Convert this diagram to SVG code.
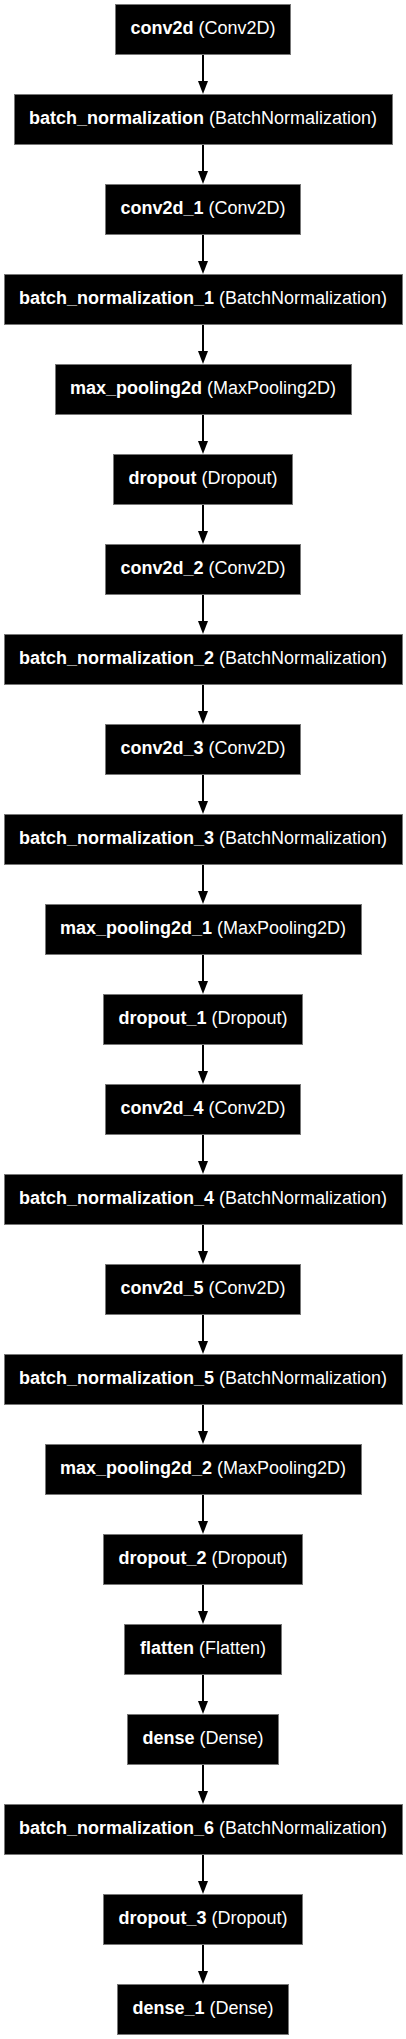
<svg xmlns="http://www.w3.org/2000/svg" width="406" height="2039" viewBox="0 0 406 2039">
<style>
.box{fill:#000;stroke:#777;stroke-width:1}
.lbl{font-family:"Liberation Sans",Arial,sans-serif;font-size:18px;fill:#fff;text-anchor:middle}
.b{font-weight:bold}
.edge{stroke:#000;stroke-width:2;fill:none;marker-end:url(#ah)}
</style>
<defs>
<marker id="ah" markerUnits="userSpaceOnUse" markerWidth="11" markerHeight="14" refX="0" refY="5" orient="auto" overflow="visible">
<path d="M0,0 L13,5 L0,10 z" fill="#000"/>
</marker>
</defs>
<rect width="406" height="2039" fill="#fff"/>
<g id="edges">
<line class="edge" x1="203" y1="54" x2="203" y2="81"/>
<line class="edge" x1="203" y1="144" x2="203" y2="171"/>
<line class="edge" x1="203" y1="234" x2="203" y2="261"/>
<line class="edge" x1="203" y1="324" x2="203" y2="351"/>
<line class="edge" x1="203" y1="414" x2="203" y2="441"/>
<line class="edge" x1="203" y1="504" x2="203" y2="531"/>
<line class="edge" x1="203" y1="594" x2="203" y2="621"/>
<line class="edge" x1="203" y1="684" x2="203" y2="711"/>
<line class="edge" x1="203" y1="774" x2="203" y2="801"/>
<line class="edge" x1="203" y1="864" x2="203" y2="891"/>
<line class="edge" x1="203" y1="954" x2="203" y2="981"/>
<line class="edge" x1="203" y1="1044" x2="203" y2="1071"/>
<line class="edge" x1="203" y1="1134" x2="203" y2="1161"/>
<line class="edge" x1="203" y1="1224" x2="203" y2="1251"/>
<line class="edge" x1="203" y1="1314" x2="203" y2="1341"/>
<line class="edge" x1="203" y1="1404" x2="203" y2="1431"/>
<line class="edge" x1="203" y1="1494" x2="203" y2="1521"/>
<line class="edge" x1="203" y1="1584" x2="203" y2="1611"/>
<line class="edge" x1="203" y1="1674" x2="203" y2="1701"/>
<line class="edge" x1="203" y1="1764" x2="203" y2="1791"/>
<line class="edge" x1="203" y1="1854" x2="203" y2="1881"/>
<line class="edge" x1="203" y1="1944" x2="203" y2="1971"/>
</g>
<g id="conv2d"><rect class="box" x="115.5" y="4.5" width="175" height="50"/><text class="lbl" x="203" y="34"><tspan class="b">conv2d</tspan> (Conv2D)</text></g>
<g id="batch_normalization"><rect class="box" x="14.5" y="94.5" width="378" height="50"/><text class="lbl" x="203" y="124"><tspan class="b">batch_normalization</tspan> (BatchNormalization)</text></g>
<g id="conv2d_1"><rect class="box" x="105.5" y="184.5" width="195" height="50"/><text class="lbl" x="203" y="214"><tspan class="b">conv2d_1</tspan> (Conv2D)</text></g>
<g id="batch_normalization_1"><rect class="box" x="4.5" y="274.5" width="398" height="50"/><text class="lbl" x="203" y="304"><tspan class="b">batch_normalization_1</tspan> (BatchNormalization)</text></g>
<g id="max_pooling2d"><rect class="box" x="55.5" y="364.5" width="296" height="50"/><text class="lbl" x="203" y="394"><tspan class="b">max_pooling2d</tspan> (MaxPooling2D)</text></g>
<g id="dropout"><rect class="box" x="113.5" y="454.5" width="179" height="50"/><text class="lbl" x="203" y="484"><tspan class="b">dropout</tspan> (Dropout)</text></g>
<g id="conv2d_2"><rect class="box" x="105.5" y="544.5" width="195" height="50"/><text class="lbl" x="203" y="574"><tspan class="b">conv2d_2</tspan> (Conv2D)</text></g>
<g id="batch_normalization_2"><rect class="box" x="4.5" y="634.5" width="398" height="50"/><text class="lbl" x="203" y="664"><tspan class="b">batch_normalization_2</tspan> (BatchNormalization)</text></g>
<g id="conv2d_3"><rect class="box" x="105.5" y="724.5" width="195" height="50"/><text class="lbl" x="203" y="754"><tspan class="b">conv2d_3</tspan> (Conv2D)</text></g>
<g id="batch_normalization_3"><rect class="box" x="4.5" y="814.5" width="398" height="50"/><text class="lbl" x="203" y="844"><tspan class="b">batch_normalization_3</tspan> (BatchNormalization)</text></g>
<g id="max_pooling2d_1"><rect class="box" x="45.5" y="904.5" width="316" height="50"/><text class="lbl" x="203" y="934"><tspan class="b">max_pooling2d_1</tspan> (MaxPooling2D)</text></g>
<g id="dropout_1"><rect class="box" x="103.5" y="994.5" width="199" height="50"/><text class="lbl" x="203" y="1024"><tspan class="b">dropout_1</tspan> (Dropout)</text></g>
<g id="conv2d_4"><rect class="box" x="105.5" y="1084.5" width="195" height="50"/><text class="lbl" x="203" y="1114"><tspan class="b">conv2d_4</tspan> (Conv2D)</text></g>
<g id="batch_normalization_4"><rect class="box" x="4.5" y="1174.5" width="398" height="50"/><text class="lbl" x="203" y="1204"><tspan class="b">batch_normalization_4</tspan> (BatchNormalization)</text></g>
<g id="conv2d_5"><rect class="box" x="105.5" y="1264.5" width="195" height="50"/><text class="lbl" x="203" y="1294"><tspan class="b">conv2d_5</tspan> (Conv2D)</text></g>
<g id="batch_normalization_5"><rect class="box" x="4.5" y="1354.5" width="398" height="50"/><text class="lbl" x="203" y="1384"><tspan class="b">batch_normalization_5</tspan> (BatchNormalization)</text></g>
<g id="max_pooling2d_2"><rect class="box" x="45.5" y="1444.5" width="316" height="50"/><text class="lbl" x="203" y="1474"><tspan class="b">max_pooling2d_2</tspan> (MaxPooling2D)</text></g>
<g id="dropout_2"><rect class="box" x="103.5" y="1534.5" width="199" height="50"/><text class="lbl" x="203" y="1564"><tspan class="b">dropout_2</tspan> (Dropout)</text></g>
<g id="flatten"><rect class="box" x="124.5" y="1624.5" width="157" height="50"/><text class="lbl" x="203" y="1654"><tspan class="b">flatten</tspan> (Flatten)</text></g>
<g id="dense"><rect class="box" x="127.5" y="1714.5" width="151" height="50"/><text class="lbl" x="203" y="1744"><tspan class="b">dense</tspan> (Dense)</text></g>
<g id="batch_normalization_6"><rect class="box" x="4.5" y="1804.5" width="398" height="50"/><text class="lbl" x="203" y="1834"><tspan class="b">batch_normalization_6</tspan> (BatchNormalization)</text></g>
<g id="dropout_3"><rect class="box" x="103.5" y="1894.5" width="199" height="50"/><text class="lbl" x="203" y="1924"><tspan class="b">dropout_3</tspan> (Dropout)</text></g>
<g id="dense_1"><rect class="box" x="117.5" y="1984.5" width="171" height="50"/><text class="lbl" x="203" y="2014"><tspan class="b">dense_1</tspan> (Dense)</text></g>
</svg>
